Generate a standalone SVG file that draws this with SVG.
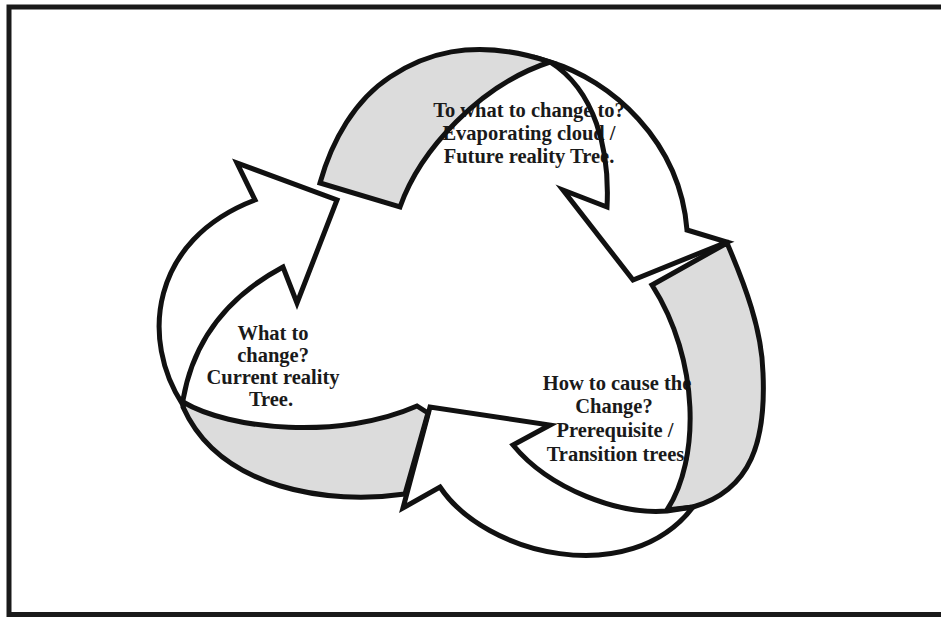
<svg xmlns="http://www.w3.org/2000/svg" width="941" height="617" viewBox="0 0 941 617">
<style>
.grey{fill:#dcdcdc;stroke:none}
.white{fill:#ffffff;stroke:none}
.outline{fill:none;stroke:#111;stroke-width:5;stroke-linejoin:miter;stroke-miterlimit:10}
.frame{fill:none;stroke:#1a1a1a;stroke-width:5}
.lbl{font-family:"Liberation Serif","Times New Roman",serif;font-weight:bold;font-size:20.5px;fill:#1a1a1a;text-anchor:middle}
</style>
<defs>
<path id="g-top" d="M320,183 C332,140 355,100 390,77 C420,57 470,35 550,62 C480,85 420,150 400,207 Z"/>
<path id="w-top" d="M550,62 C610,80 680,140 687,230 L727,242 L633,280 L563,190 L607,207 C610,150 595,90 550,62 Z"/>
<path id="g-right" d="M652,285 L727,243 C745,285 762,330 763,373 C766,440 752,490 693,507 L667,510 C700,460 700,360 652,285 Z"/>
<path id="w-bottom" d="M667,511 C620,515 550,490 513,445 L550,425 L430,407 L403,508 L440,487 C485,555 630,590 693,507 Z"/>
<path id="g-left" d="M183,402 C230,430 340,440 417,406 L428,413 L405,494 C330,505 220,490 183,407 Z"/>
<path id="w-left" d="M183,405 C140,340 150,240 255,200 L237,163 L337,200 L297,303 L283,267 C240,290 195,330 183,400 Z"/>
</defs>
<rect x="0" y="0" width="941" height="617" fill="#ffffff"/>
<path class="frame" d="M9,617 V7 H941 M9,614.5 H941"/>
<g id="connectors-fill">
<g id="arrow-top"><use href="#g-top" class="grey"/><use href="#w-top" class="white"/></g>
<g id="arrow-right"><use href="#g-right" class="grey"/><use href="#w-bottom" class="white"/></g>
<g id="arrow-left"><use href="#g-left" class="grey"/><use href="#w-left" class="white"/></g>
</g>
<g id="node-future">
<text class="lbl" x="529" y="117">To what to change to?</text>
<text class="lbl" x="529" y="140">Evaporating cloud /</text>
<text class="lbl" x="529" y="163">Future reality Tree.</text>
</g>
<g id="node-current">
<text class="lbl" x="273" y="340">What to</text>
<text class="lbl" x="273" y="362">change?</text>
<text class="lbl" x="273" y="384">Current reality</text>
<text class="lbl" x="271" y="406">Tree.</text>
</g>
<g id="node-transition">
<text class="lbl" x="617" y="390">How to cause the</text>
<text class="lbl" x="614" y="413">Change?</text>
<text class="lbl" x="615" y="437">Prerequisite /</text>
<text class="lbl" x="618" y="461">Transition trees.</text>
</g>
<g id="connectors" class="outline">
<use href="#g-top"/><use href="#w-top"/>
<use href="#g-right"/><use href="#w-bottom"/>
<use href="#g-left"/><use href="#w-left"/>
</g>
</svg>
